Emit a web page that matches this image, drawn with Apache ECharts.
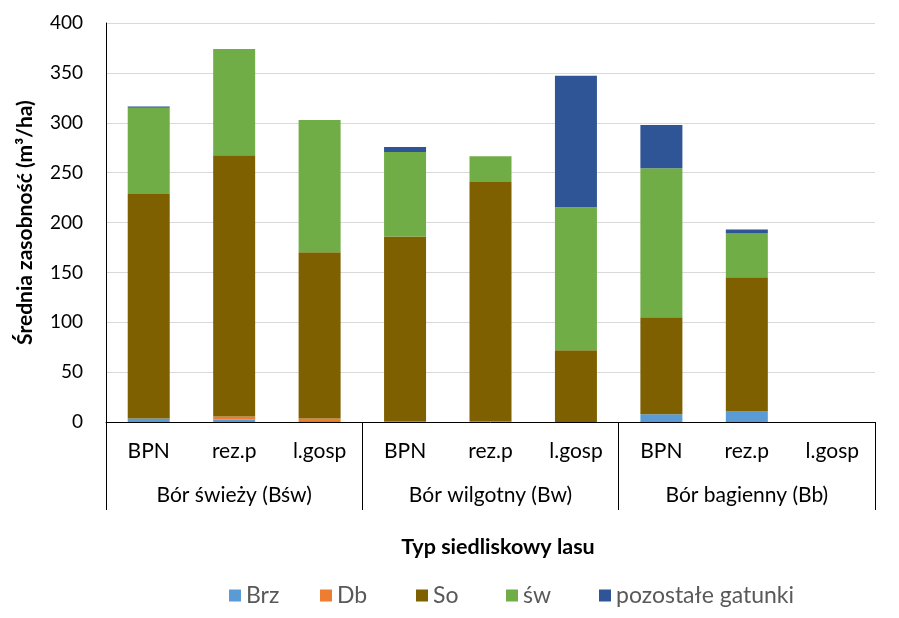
<!DOCTYPE html>
<html>
<head>
<meta charset="utf-8">
<script src="https://cdn.jsdelivr.net/npm/echarts@6/dist/echarts.min.js"></script>
<style>
html,body{margin:0;padding:0;background:#fff;}
#c{width:899px;height:618px;}
</style>
</head>
<body>
<div id="c"></div>
<script>
var subCategories = ['BPN','rez.p','l.gosp','BPN','rez.p','l.gosp','BPN','rez.p','l.gosp'];
var groups = ['Bór świeży (Bśw)','Bór wilgotny (Bw)','Bór bagienny (Bb)'];
var seriesNames = ['Brz','Db','So','św','pozostałe gatunki'];
var brz = [3.5, 2.5, 1, 1, 1, 0, 7.8, 10.5, 0];
var db  = [0, 3, 2.5, 0, 0, 0, 0, 0, 0];
var so  = [225, 262, 166.7, 185, 239.5, 72, 97.2, 134.5, 0];
var sw  = [86.5, 106.5, 132.5, 84.6, 26, 143.4, 149.5, 44, 0];
var poz = [1.3, 0, 0, 5, 0, 131.6, 43.2, 4, 0];
var yTicks = {min:0, max:400, interval:50};
var colors = ['#5B9BD5','#ED7D31','#7F6000','#70AD47','#2F5597'];

var FONT = "'Lato',sans-serif";
var values = [brz, db, so, sw, poz];
var legendLefts = [229, 320, 416, 506, 599];

var series = seriesNames.map(function(n,i){
  return {
    name:n, type:'bar', stack:'total', data:values[i], barWidth:42,
    xAxisIndex:0, yAxisIndex:0,
    itemStyle:{color:colors[i]}
  };
});

var legends = seriesNames.map(function(n,i){
  return {
    data:[n], left:legendLefts[i], top:584, itemWidth:12, itemHeight:12, itemGap:0,
    icon:'rect', padding:0,
    textStyle:{fontFamily:FONT, fontSize:23, color:'#595959'}
  };
});

var chart = echarts.init(document.getElementById('c'), null, {renderer:'canvas'});
chart.setOption({
  backgroundColor:'#fff',
  animation:false,
  color:colors,
  grid:{left:106, right:24, top:23, bottom:196, containLabel:false, outerBoundsMode:'none'},
  legend:legends,
  xAxis:[{
    type:'category', data:subCategories, position:'bottom', gridIndex:0,
    axisLine:{show:true, lineStyle:{color:'#000', width:1}},
    axisTick:{show:false},
    axisLabel:{interval:0, margin:19, fontFamily:FONT, fontSize:21, color:'#000'},
    splitLine:{show:false}
  },{
    type:'category', data:groups, position:'bottom', gridIndex:0,
    axisLine:{show:false},
    axisTick:{show:true, length:88, interval:0, lineStyle:{color:'#000', width:1}},
    axisLabel:{interval:0, margin:63, fontFamily:FONT, fontSize:21, color:'#000'},
    splitLine:{show:false}
  }],
  yAxis:{
    type:'value', min:yTicks.min, max:yTicks.max, interval:yTicks.interval,
    name:'Średnia zasobność (m³/ha)', nameLocation:'middle', nameGap:70,
    nameTextStyle:{fontFamily:FONT, fontSize:21, fontWeight:'bold', color:'#000'},
    axisLine:{show:true, lineStyle:{color:'#000', width:1}},
    axisTick:{show:false},
    axisLabel:{margin:23, fontFamily:FONT, fontSize:19, color:'#000'},
    splitLine:{show:true, lineStyle:{color:'#D9D9D9', width:1}}
  },
  graphic:[{
    type:'text', x:498, y:547,
    style:{text:'Typ siedliskowy lasu', fontFamily:FONT, fontSize:21.5, fontWeight:'bold', fill:'#000', align:'center', verticalAlign:'middle'}
  }],
  series:series
});
</script>
</body>
</html>
